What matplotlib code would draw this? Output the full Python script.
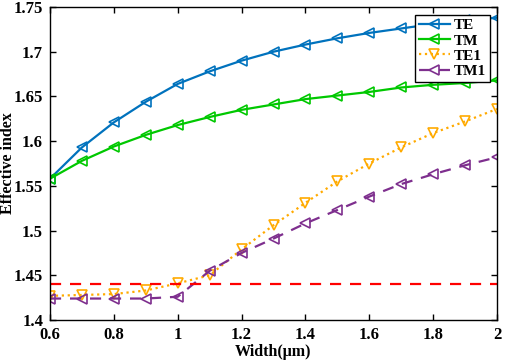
import matplotlib
matplotlib.use("Agg")
import matplotlib.pyplot as plt
from matplotlib.ticker import FuncFormatter

# === data ===
width_um = [0.6, 0.7, 0.8, 0.9, 1.0, 1.1, 1.2, 1.3, 1.4, 1.5, 1.6, 1.7, 1.8, 1.9, 2.0]
te  = [1.558, 1.593, 1.621, 1.644, 1.664, 1.678, 1.690, 1.700, 1.708, 1.715, 1.721, 1.726, 1.731, 1.735, 1.738]
tm  = [1.558, 1.578, 1.594, 1.607, 1.618, 1.627, 1.635, 1.641, 1.647, 1.651, 1.655, 1.660, 1.663, 1.665, 1.668]
te1 = [1.427, 1.428, 1.429, 1.433, 1.441, 1.450, 1.479, 1.506, 1.531, 1.555, 1.575, 1.593, 1.609, 1.622, 1.636]
tm1 = [1.424, 1.424, 1.424, 1.424, 1.426, 1.455, 1.475, 1.491, 1.508, 1.523, 1.538, 1.552, 1.563, 1.573, 1.582]
cladding_index = 1.44

plt.rcParams["font.family"] = ["Liberation Serif", "DejaVu Serif"]
plt.rcParams["font.weight"] = "bold"

fig = plt.figure(figsize=(5.05, 3.63), dpi=100)
ax = fig.add_axes([50/505, 1 - 320/363, 447/505, 313/363])

mk = dict(markersize=6.5, fillstyle="none", markeredgewidth=1.2)
ax.plot(width_um, te, "-", marker="<", color="#0072BD", lw=1.6, label="TE", **mk)
ax.plot(width_um, tm, "-", marker="<", color="#00C800", lw=1.6, label="TM", **mk)
ax.plot(width_um, te1, ":", marker="v", color="#FFAA00", lw=1.6, label="TE1", **mk)
ax.plot(width_um, tm1, "--", marker="<", color="#7E2F8E", lw=1.6, dashes=(5, 4), label="TM1", **mk)
ax.axhline(cladding_index, color="#FF0000", ls="--", lw=1.6, dashes=(5, 4))

ax.set_xlim(0.6, 2.0)
ax.set_ylim(1.4, 1.75)
ax.set_xticks([0.6, 0.8, 1.0, 1.2, 1.4, 1.6, 1.8, 2.0])
ax.set_yticks([1.4, 1.45, 1.5, 1.55, 1.6, 1.65, 1.7, 1.75])
fmt = FuncFormatter(lambda v, p: ("%.2f" % v).rstrip("0").rstrip("."))
ax.xaxis.set_major_formatter(fmt)
ax.yaxis.set_major_formatter(fmt)
ax.tick_params(direction="in", top=True, right=True, length=4, width=1, labelsize=12, pad=5)
for lab in ax.get_xticklabels() + ax.get_yticklabels():
    lab.set_fontweight("bold")
for s in ax.spines.values():
    s.set_linewidth(1.0)

ax.set_xlabel("Width(μm)", fontsize=11.5, fontweight="bold", labelpad=1)
ax.set_ylabel("Effective index", fontsize=11.5, fontweight="bold")
ax.yaxis.set_label_coords(-0.077, 0.5)

leg = ax.legend(loc="upper right", bbox_to_anchor=(0.985, 0.975), fancybox=False,
                edgecolor="black", framealpha=1, prop={"size": 11, "weight": "bold"},
                handlelength=2.0, handletextpad=0.3, borderpad=0.25, labelspacing=0.1,
                borderaxespad=0)
leg.get_frame().set_linewidth(1.0)

fig.savefig("out.png", dpi=100)
